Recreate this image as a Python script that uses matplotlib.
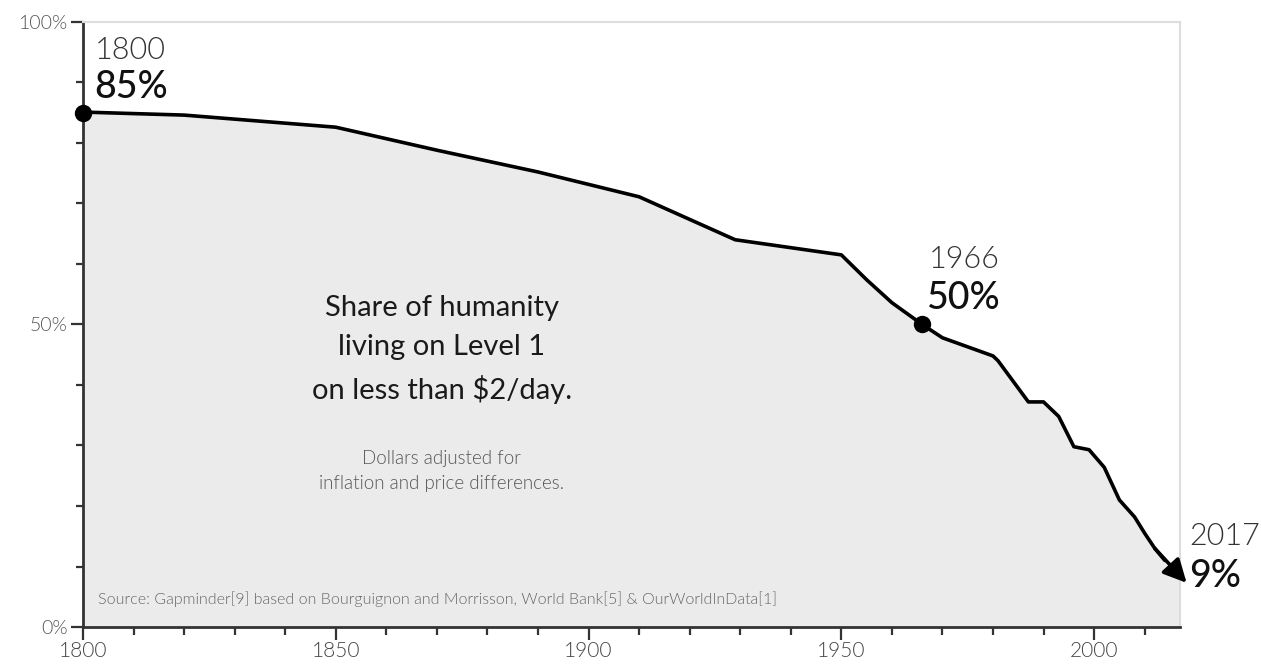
import matplotlib.pyplot as plt
from matplotlib.ticker import MultipleLocator, FuncFormatter

# share of humanity on Level 1 (< $2/day), percent
years = [1800, 1820, 1850, 1870, 1890, 1910, 1929, 1950, 1955, 1960, 1966,
         1970, 1980, 1981, 1987, 1990, 1993, 1996, 1999, 2002, 2005, 2008,
         2010, 2012, 2014, 2017]
share = [85.1, 84.6, 82.6, 78.8, 75.2, 71.1, 64.0, 61.5, 57.4, 53.6, 50.0,
         47.8, 44.8, 44.0, 37.2, 37.2, 34.8, 29.8, 29.3, 26.4, 21.0, 18.2,
         15.5, 13.0, 11.0, 9.0]
highlight_years = [1800, 1966]
highlight_share = [85, 50]

LIGHT = 300
plt.rcParams['font.family'] = ['Lato', 'DejaVu Sans']

fig = plt.figure(figsize=(12.61, 6.64), dpi=100)
ax = fig.add_axes([0.0658, 0.0557, 0.87, 0.9113])

ax.fill_between(years, 0, share, color='#ebebeb', lw=0, zorder=1)
ax.plot(years[:-1], share[:-1], color='black', lw=2.6, zorder=3,
        solid_capstyle='round', solid_joinstyle='round')
ax.annotate('', xy=(years[-1] + 1.3, share[-1] - 1.7), xytext=(years[-3], share[-3]),
            arrowprops=dict(arrowstyle='-|>,head_length=1.4,head_width=0.7',
                            color='black', lw=2.6, shrinkA=0, shrinkB=0),
            annotation_clip=False, zorder=4)
ax.plot(highlight_years, highlight_share, 'o', color='black', ms=11.5,
        zorder=5, clip_on=False)

ax.set_xlim(1800, 2017)
ax.set_ylim(0, 100)

ax.xaxis.set_major_locator(MultipleLocator(50))
ax.xaxis.set_minor_locator(MultipleLocator(10))
ax.yaxis.set_major_locator(MultipleLocator(50))
ax.yaxis.set_minor_locator(MultipleLocator(10))
ax.yaxis.set_major_formatter(FuncFormatter(lambda v, p: f'{int(v)}%'))
ax.tick_params(axis='both', which='both', direction='out', color='#333333',
               width=1.6)
ax.tick_params(axis='x', which='major', length=9, labelsize=15,
               labelcolor='#444444', pad=1)
ax.tick_params(axis='x', which='minor', length=6)
ax.tick_params(axis='y', which='major', length=9, labelsize=14,
               labelcolor='#555555', pad=2)
ax.tick_params(axis='y', which='minor', length=5)
for lab in ax.get_xticklabels() + ax.get_yticklabels():
    lab.set_fontweight(LIGHT)

for side in ['left', 'bottom']:
    ax.spines[side].set_color('#333333')
    ax.spines[side].set_linewidth(2)
for side in ['top', 'right']:
    ax.spines[side].set_color('#dddddd')
    ax.spines[side].set_linewidth(1.5)

# point labels
ax.text(1802.3, 93.8, '1800', fontsize=22, color='#333333', fontweight=LIGHT)
ax.text(1802.3, 87.5, '85%', fontsize=27, color='#111111', fontweight='medium')
ax.text(1967.3, 59.3, '1966', fontsize=22, color='#333333', fontweight=LIGHT)
ax.text(1966.8, 52.6, '50%', fontsize=27, color='#111111', fontweight='medium')
ax.text(2018.8, 13.5, '2017', fontsize=22, color='#333333', fontweight=LIGHT,
        clip_on=False)
ax.text(2018.8, 6.6, '9%', fontsize=27, color='#111111', fontweight='medium',
        clip_on=False)

ax.text(1871.0, 45.8, 'Share of humanity\nliving on Level 1\non less than $2/day.',
        ha='center', va='center', fontsize=21, color='#1a1a1a',
        linespacing=1.62)
ax.text(1871.0, 25.8, 'Dollars adjusted for\ninflation and price differences.',
        ha='center', va='center', fontsize=13.5, color='#555555',
        fontweight=LIGHT, linespacing=1.55)
ax.text(1803, 3.8, 'Source: Gapminder[9] based on Bourguignon and Morrisson, '
        'World Bank[5] & OurWorldInData[1]', fontsize=11.5, color='#666666',
        fontweight=LIGHT)

fig.savefig('out.png', dpi=100)
